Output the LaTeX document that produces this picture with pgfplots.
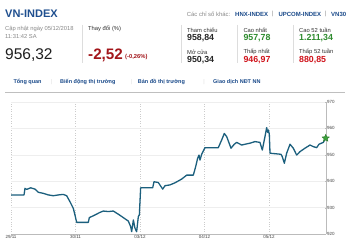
\documentclass[border=0pt]{standalone}
\usepackage{pgfplots}
\pgfplotsset{compat=1.18}
\usepackage{fontspec}
\setmainfont{Liberation Sans}
\definecolor{lineblue}{HTML}{1B5F7D}
\definecolor{hdrblue}{HTML}{1F4F8F}
\definecolor{tabblue}{HTML}{1A4A8A}
\definecolor{dred}{HTML}{A3161B}
\definecolor{vred}{HTML}{D0141C}
\definecolor{vgreen}{HTML}{2E8B2E}
\definecolor{txtgray}{HTML}{888888}
\definecolor{txtdark}{HTML}{333333}
\definecolor{sepgray}{HTML}{DDDDDD}
\definecolor{axgray}{HTML}{BBBBBB}
\definecolor{gridgray}{HTML}{CCCCCC}
\definecolor{gridlight}{HTML}{EEEEEE}
\definecolor{labgray}{HTML}{444444}
\definecolor{stargreen}{HTML}{3CA23C}
\definecolor{stardark}{HTML}{2A7A2A}
\newcommand{\fs}[1]{\fontsize{#1}{#1}\selectfont}
\pgfdeclareplotmark{fstar}{%
  \pgfpathmoveto{\pgfpointpolar{90}{\pgfplotmarksize}}%
  \pgfpathlineto{\pgfpointpolar{126}{0.45\pgfplotmarksize}}%
  \pgfpathlineto{\pgfpointpolar{162}{\pgfplotmarksize}}%
  \pgfpathlineto{\pgfpointpolar{198}{0.45\pgfplotmarksize}}%
  \pgfpathlineto{\pgfpointpolar{234}{\pgfplotmarksize}}%
  \pgfpathlineto{\pgfpointpolar{270}{0.45\pgfplotmarksize}}%
  \pgfpathlineto{\pgfpointpolar{306}{\pgfplotmarksize}}%
  \pgfpathlineto{\pgfpointpolar{342}{0.45\pgfplotmarksize}}%
  \pgfpathlineto{\pgfpointpolar{18}{\pgfplotmarksize}}%
  \pgfpathlineto{\pgfpointpolar{54}{0.45\pgfplotmarksize}}%
  \pgfpathclose
  \pgfusepathqfillstroke
}
\begin{document}
\begin{tikzpicture}[x=1pt,y=1pt]
\path[fill=white] (0,0) rectangle (350,-246);
% ---- header left
\node[anchor=west,inner sep=0,font=\fs{11}\bfseries,text=hdrblue] at (5,-14) {VN-INDEX};
\node[anchor=west,inner sep=0,font=\fs{5.8},text=txtgray] at (5,-29) {Cập nhật ngày 05/12/2018};
\node[anchor=west,inner sep=0,font=\fs{5.8},text=txtgray] at (5,-37) {11:31:42 SA};
\node[anchor=west,inner sep=0,font=\fs{15.5},text=black!88] at (5,-55) {956,32};
\draw[sepgray,line width=0.6pt] (82,-25) -- (82,-63);
\node[anchor=west,inner sep=0,font=\fs{5.8},text=txtdark] at (88,-29) {Thay đổi (\%)};
\node[anchor=west,inner sep=0,font=\fs{15.2}\bfseries,text=dred] at (88,-55) {-2,52};
\node[anchor=west,inner sep=0,font=\fs{5.8}\bfseries,text=dred] at (125,-57) {(-0,26\%)};
% ---- header right
\node[anchor=west,inner sep=0,font=\fs{5.9},text=txtgray] at (186.7,-14) {Các chỉ số khác:};
\node[anchor=west,inner sep=0,font=\fs{6}\bfseries,text=tabblue] at (235,-14) {HNX-INDEX};
\node[inner sep=0,font=\fs{6},text=txtgray] at (272.7,-14) {|};
\node[anchor=west,inner sep=0,font=\fs{6}\bfseries,text=tabblue] at (278.3,-14) {UPCOM-INDEX};
\node[inner sep=0,font=\fs{6},text=txtgray] at (325.7,-14) {|};
\node[anchor=west,inner sep=0,font=\fs{6}\bfseries,text=tabblue] at (331,-14) {VN30};
\foreach \sx in {181,237.7,293.3} \draw[sepgray,line width=0.6pt] (\sx,-25) -- (\sx,-63);
\node[anchor=west,inner sep=0,font=\fs{5.8},text=txtdark] at (187,-30) {Tham chiếu};
\node[anchor=west,inner sep=0,font=\fs{8.8}\bfseries,text=black!85] at (187,-38.5) {958,84};
\node[anchor=west,inner sep=0,font=\fs{5.8},text=txtdark] at (187,-52) {Mở cửa};
\node[anchor=west,inner sep=0,font=\fs{8.8}\bfseries,text=black!85] at (187,-60.5) {950,34};
\node[anchor=west,inner sep=0,font=\fs{5.8},text=txtdark] at (243.3,-30) {Cao nhất};
\node[anchor=west,inner sep=0,font=\fs{8.8}\bfseries,text=vgreen] at (243.3,-38.5) {957,78};
\node[anchor=west,inner sep=0,font=\fs{5.8},text=txtdark] at (243.3,-52) {Thấp nhất};
\node[anchor=west,inner sep=0,font=\fs{8.8}\bfseries,text=vred] at (243.3,-60.5) {946,97};
\node[anchor=west,inner sep=0,font=\fs{5.8},text=txtdark] at (299,-30) {Cao 52 tuần};
\node[anchor=west,inner sep=0,font=\fs{8.8}\bfseries,text=vgreen] at (299,-38.5) {1.211,34};
\node[anchor=west,inner sep=0,font=\fs{5.8},text=txtdark] at (299,-52) {Thấp 52 tuần};
\node[anchor=west,inner sep=0,font=\fs{8.8}\bfseries,text=vred] at (299,-60.5) {880,85};
% ---- tabs
\node[anchor=west,inner sep=0,font=\fs{5.5}\bfseries,text=tabblue] at (13.3,-81.7) {Tổng quan};
\node[inner sep=0,font=\fs{5.5},text=sepgray] at (51.7,-81.7) {|};
\node[anchor=west,inner sep=0,font=\fs{5.5}\bfseries,text=tabblue] at (60,-81.7) {Biến động thị trường};
\node[inner sep=0,font=\fs{5.5},text=sepgray] at (131.7,-81.7) {|};
\node[anchor=west,inner sep=0,font=\fs{5.5}\bfseries,text=tabblue] at (137.7,-81.7) {Bản đồ thị trường};
\node[inner sep=0,font=\fs{5.5},text=sepgray] at (204,-81.7) {|};
\node[anchor=west,inner sep=0,font=\fs{5.5}\bfseries,text=tabblue] at (213,-81.7) {Giao dịch NĐT NN};
\draw[black!25,line width=1pt] (5,-92) -- (345,-92);
% ---- chart
\begin{axis}[
  at={(11pt,-234pt)}, anchor=south west,
  scale only axis, width=315pt, height=132pt,
  xmin=0, xmax=4.884, ymin=920, ymax=970,
  axis x line*=bottom, axis y line*=right,
  axis line style={draw=axgray, line width=0.8pt},
  xtick={0,1,2,3,4}, xticklabels={29/11,30/11,03/12,04/12,05/12},
  ytick={920,930,940,950,960,970},
  xmajorgrids, ymajorgrids,
  x grid style={draw=gridgray, dotted, line width=0.6pt},
  y grid style={draw=gridlight, line width=0.5pt},
  tick style={draw=axgray}, major tick length=1.5pt,
  xtick style={draw=none},
  ticklabel style={font=\fs{4.5}, text=labgray},
  /pgf/number format/assume math mode=true,
  yticklabel style={anchor=west, inner sep=0.8pt},
  xticklabel style={inner sep=1.2pt},
  clip=false,
]
\addplot[lineblue, line width=1.3pt, line join=round] coordinates {
(0,934.8) (0.202,934.8) (0.217,937.3) (0.243,936.9) (0.305,937.5) (0.372,937.0)
(0.424,935.8) (0.501,935.4) (0.579,934.8) (0.656,934.5) (0.734,934.8) (0.811,935.0)
(0.863,934.5) (0.915,932.2) (0.966,929.7) (0.992,927.2) (1.018,924.4) (1.199,924.4)
(1.214,926.2) (1.302,927.2) (1.380,928.2) (1.431,928.7) (1.509,928.5) (1.586,928.7)
(1.664,927.5) (1.742,926.2) (1.819,924.9) (1.855,922.8) (1.871,920.9) (1.897,925.3)
(1.922,922.2) (1.948,920.9) (1.974,926.6) (1.99,927.2) (2.01,937.5) (2.197,937.5)
(2.217,939.8) (2.284,939.5) (2.352,937.0) (2.388,938.3) (2.465,938.6) (2.543,939.4)
(2.646,940.8) (2.724,942.3) (2.827,942.3) (2.863,945.5) (2.894,948.7) (2.915,949.9)
(2.930,948.0) (2.956,950.2) (3.008,952.7) (3.214,952.7) (3.266,955.6) (3.307,958.1)
(3.344,956.9) (3.411,952.5) (3.462,954.0) (3.499,954.7) (3.577,953.7) (3.628,954.0)
(3.705,954.4) (3.783,955.0) (3.860,954.7) (3.896,951.8) (3.938,956.9) (3.964,960.3)
(3.980,958.5) (3.990,959.4) (4.005,957.8) (4.016,950.6) (4.186,950.2) (4.206,949.3)
(4.238,946.8) (4.274,950.6) (4.326,954.0) (4.377,952.5) (4.429,949.9) (4.481,951.2)
(4.558,952.5) (4.636,953.7) (4.687,953.1) (4.739,952.7) (4.775,954.0) (4.842,954.7)
(4.879,956.3)
};
\addplot[only marks, mark=fstar, mark size=3.8pt, mark options={fill=stargreen, draw=stardark, line width=0.4pt}] coordinates {(4.879,956.3)};
\end{axis}
\end{tikzpicture}
\end{document}
